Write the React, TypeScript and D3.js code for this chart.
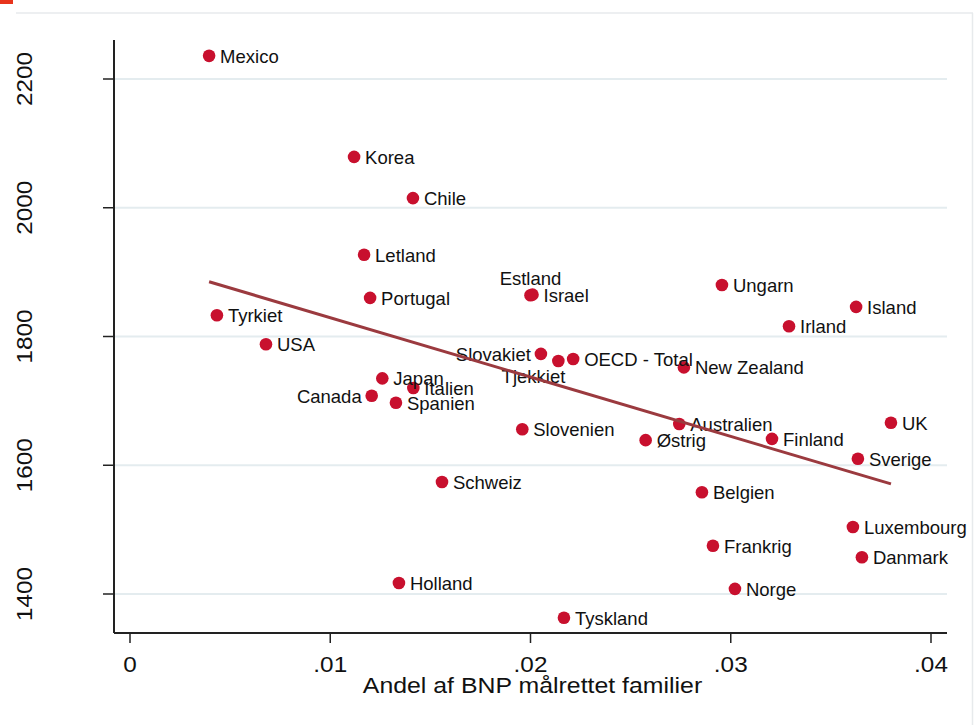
import React from "react";
import * as d3 from "d3";

const countries = [
  "Mexico", "Korea", "Chile", "Letland", "Portugal", "Estland", "Israel", "Ungarn",
  "Island", "Irland", "Tyrkiet", "USA", "Slovakiet", "Tjekkiet", "OECD - Total",
  "New Zealand", "Japan", "Italien", "Canada", "Spanien", "Slovenien", "Østrig",
  "Australien", "Finland", "UK", "Sverige", "Schweiz", "Belgien", "Luxembourg",
  "Frankrig", "Danmark", "Holland", "Norge", "Tyskland",
];
const shareGDP = [
  0.00395, 0.01119, 0.01413, 0.01169, 0.01199, 0.0200, 0.0201, 0.02956,
  0.03626, 0.03291, 0.00434, 0.00679, 0.02052, 0.02139, 0.02213,
  0.02766, 0.0126, 0.01415, 0.01207, 0.01328, 0.01959, 0.02575,
  0.02743, 0.03206, 0.0380, 0.03635, 0.01558, 0.02856, 0.0361,
  0.02911, 0.03655, 0.01343, 0.03021, 0.02167,
];
const hours = [
  2236, 2079, 2015, 1927, 1860, 1864, 1865, 1880,
  1846, 1816, 1833, 1788, 1773, 1762, 1765,
  1752, 1735, 1720, 1708, 1697, 1656, 1639,
  1664, 1641, 1666, 1610, 1574, 1558, 1504,
  1475, 1457, 1417, 1408, 1363,
];
const fitX = [0.00395, 0.038];
const fitY = [1885, 1571];
const xTicks = [0, 0.01, 0.02, 0.03, 0.04];
const xTickLabels = ["0", ".01", ".02", ".03", ".04"];
const yTicks = [1400, 1600, 1800, 2000, 2200];
const xTitle = "Andel af BNP målrettet familier";

// label placement (clock position) for non-default labels
const labelPos: Record<string, string> = {
  Estland: "top",
  Slovakiet: "left",
  Canada: "left",
  "Tjekkiet": "bottomleft",
};

const W = 974, H = 725;
const plot = { left: 114, right: 947, top: 40, bottom: 633 };
const font = "'Liberation Sans', Arial, Helvetica, sans-serif";
const axisStretch = 1.13;

export default function App() {
  const x = d3.scaleLinear().domain([0, 0.04]).range([130, 931]);
  const y = d3.scaleLinear().domain([1400, 2200]).range([594, 79]);
  const line = d3.line<number>().x((d) => x(fitX[d])).y((d) => y(fitY[d]));

  return (
    <svg width={W} height={H} style={{ position: "absolute", left: 0, top: 0, background: "#fff" }}
      fontFamily={font}>
      <rect x={0} y={0} width={13} height={4} fill="#e8341c" />
      <line x1={16} y1={13} x2={973} y2={13} stroke="#e7eaec" strokeWidth={1.5} />
      <line x1={972.5} y1={13} x2={972.5} y2={H} stroke="#e7eaec" strokeWidth={1.5} />

      {yTicks.map((t) => (
        <line key={"g" + t} x1={plot.left} x2={plot.right} y1={y(t)} y2={y(t)} stroke="#e4ecef" strokeWidth={2} />
      ))}

      {/* axes */}
      <line x1={plot.left} x2={plot.left} y1={plot.top} y2={plot.bottom} stroke="#222" strokeWidth={2} />
      <line x1={plot.left} x2={plot.right} y1={plot.bottom} y2={plot.bottom} stroke="#222" strokeWidth={2} />

      {yTicks.map((t) => (
        <g key={"yt" + t}>
          <line x1={plot.left - 11} x2={plot.left} y1={y(t)} y2={y(t)} stroke="#222" strokeWidth={1.5} />
          <text transform={`translate(32,${y(t)}) rotate(-90) scale(${axisStretch},1)`} textAnchor="middle"
            fontSize={21.5} fill="#111">{t}</text>
        </g>
      ))}
      {xTicks.map((t, i) => (
        <g key={"xt" + t}>
          <line x1={x(t)} x2={x(t)} y1={plot.bottom} y2={plot.bottom + 10} stroke="#222" strokeWidth={1.5} />
          <text transform={`translate(${x(t)},671.5) scale(${axisStretch},1)`} textAnchor="middle"
            fontSize={21.5} fill="#111">{xTickLabels[i]}</text>
        </g>
      ))}
      <text transform={`translate(${(plot.left + plot.right) / 2 + 2},692.5) scale(${axisStretch},1)`}
        textAnchor="middle" fontSize={22} fill="#111">{xTitle}</text>

      {/* points */}
      {countries.map((c, i) => (
        <circle key={"p" + c} cx={x(shareGDP[i])} cy={y(hours[i])} r={6.3} fill="#c8102e" />
      ))}
      {countries.map((c, i) => {
        const px = x(shareGDP[i]), py = y(hours[i]);
        const pos = labelPos[c] || "right";
        let tx = px + 11, ty = py + 7, anchor = "start";
        if (pos === "left") { tx = px - 10; anchor = "end"; }
        if (pos === "top") { tx = px; ty = py - 10; anchor = "middle"; }
        if (pos === "bottomleft") { tx = px + 7; ty = py + 22; anchor = "end"; }
        return (
          <text key={"l" + c} x={tx} y={ty} textAnchor={anchor} fontSize={18.5} fill="#111">{c}</text>
        );
      })}

      <path d={line([0, 1]) || ""} fill="none" stroke="#9b3a3f" strokeWidth={3} />
    </svg>
  );
}
